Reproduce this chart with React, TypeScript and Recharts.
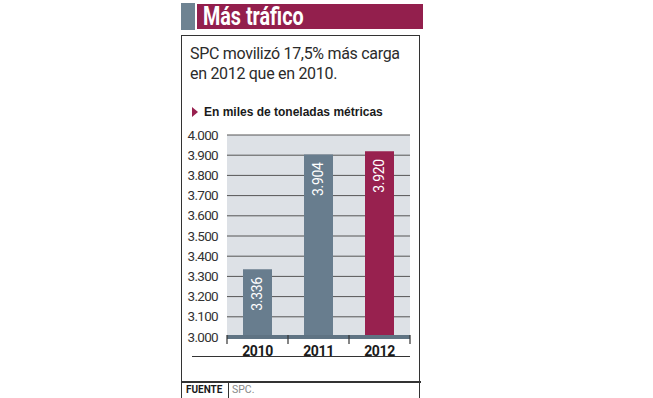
import React from "react";
import { BarChart, Bar, XAxis, YAxis, CartesianGrid, Cell, LabelList } from "recharts";

const categories = ["2010", "2011", "2012"];
const values = [3336, 3904, 3920];
const yTicks = [3000, 3100, 3200, 3300, 3400, 3500, 3600, 3700, 3800, 3900, 4000];
const barColors = ["#687d8e", "#687d8e", "#98214f"];

const data = categories.map((c, i) => ({ year: c, value: values[i] }));

const fmt = (v: number) => {
  const s = String(Math.round(v));
  return s.length > 3 ? s.slice(0, s.length - 3) + "." + s.slice(s.length - 3) : s;
};

const FONT = "'Roboto', 'Liberation Sans', sans-serif";
const HALF_BAND = 30.5;

const XTick = (props: any) => {
  const { x, y, payload, index } = props;
  return (
    <g>
      <line x1={x - HALF_BAND} x2={x - HALF_BAND} y1={y - 10} y2={y - 1} stroke="#333" strokeWidth={1.2} />
      {index === categories.length - 1 && (
        <line x1={x + HALF_BAND} x2={x + HALF_BAND} y1={y - 10} y2={y - 1} stroke="#333" strokeWidth={1.2} />
      )}
      <text x={x} y={y + 11} textAnchor="middle" fontFamily={FONT} fontWeight={700} fontSize={14} fill="#1a1a1a" letterSpacing={-0.4}>
        {payload.value}
      </text>
    </g>
  );
};

const YTick = (props: any) => {
  const { x, y, payload } = props;
  return (
    <text x={x} y={y} dy={4.5} textAnchor="end" fontFamily={FONT} fontSize={13.5} fill="#333" letterSpacing={-0.7}>
      {fmt(payload.value)}
    </text>
  );
};

const BarLabel = (props: any) => {
  const { x, y, width, value } = props;
  const cx = x + width / 2;
  const ty = y + 8;
  return (
    <text
      x={cx}
      y={ty}
      transform={`rotate(-90 ${cx} ${ty})`}
      textAnchor="end"
      dominantBaseline="central"
      fill="#ffffff"
      fontFamily={FONT}
      fontSize={14}
      letterSpacing={-0.3}
    >
      {fmt(value)}
    </text>
  );
};

export default function App() {
  return (
    <div style={{ position: "absolute", left: 0, top: 0, width: 653, height: 398, background: "#fff", overflow: "hidden" }}>
      {/* title bar */}
      <div style={{ position: "absolute", left: 181, top: 3, width: 14, height: 27, background: "#6e8392" }} />
      <div style={{ position: "absolute", left: 197, top: 4, width: 226, height: 25, background: "#931f4d" }} />
      <div
        style={{
          position: "absolute",
          left: 203,
          top: 3,
          height: 27,
          lineHeight: "27px",
          color: "#fff",
          fontFamily: FONT,
          fontWeight: 700,
          fontSize: 26,
          whiteSpace: "nowrap",
          transform: "scaleX(0.76)",
          transformOrigin: "left center",
        }}
      >
        Más tráfico
      </div>
      {/* box */}
      <div style={{ position: "absolute", left: 181, top: 35, width: 239, height: 380, border: "1px solid #333", boxSizing: "border-box" }} />
      <div
        style={{
          position: "absolute",
          left: 190,
          top: 44,
          width: 230,
          fontFamily: FONT,
          fontSize: 16,
          lineHeight: "20px",
          color: "#2b2b2b",
          letterSpacing: -0.3,
        }}
      >
        SPC movilizó 17,5% más carga
        <br />
        en 2012 que en 2010.
      </div>
      <div
        style={{
          position: "absolute",
          left: 192,
          top: 107,
          width: 0,
          height: 0,
          borderTop: "5px solid transparent",
          borderBottom: "5px solid transparent",
          borderLeft: "6px solid #98214f",
        }}
      />
      <div
        style={{
          position: "absolute",
          left: 204,
          top: 104,
          fontFamily: "'Liberation Sans', sans-serif",
          fontWeight: 700,
          fontSize: 12,
          lineHeight: "16px",
          color: "#1a1a1a",
        }}
      >
        En miles de toneladas métricas
      </div>
      {/* chart */}
      <div style={{ position: "absolute", left: 0, top: 0 }}>
        <BarChart width={653} height={398} data={data} margin={{ top: 135, right: 243, bottom: 31, left: 167 }} barCategoryGap={0}>
          <CartesianGrid vertical={false} stroke="#555" strokeWidth={1} fill="#dde1e6" fillOpacity={1} />
          <YAxis
            width={60}
            domain={[3000, 4000]}
            ticks={yTicks}
            interval={0}
            axisLine={false}
            tickLine={false}
            tickSize={0}
            tickMargin={9}
            tick={<YTick />}
          />
          <XAxis
            dataKey="year"
            height={30}
            axisLine={{ stroke: "#5f7383", strokeWidth: 4 }}
            tickLine={false}
            tick={<XTick />}
            interval={0}
          />
          <Bar dataKey="value" barSize={29} isAnimationActive={false}>
            {data.map((d, i) => (
              <Cell key={d.year} fill={barColors[i]} />
            ))}
            <LabelList dataKey="value" content={<BarLabel />} />
          </Bar>
        </BarChart>
      </div>
      {/* bottom lines */}
      <div style={{ position: "absolute", left: 192, top: 356, width: 218, height: 1, background: "#333" }} />
      <div style={{ position: "absolute", left: 182, top: 381, width: 239, height: 2, background: "#333" }} />
      <div style={{ position: "absolute", left: 228, top: 382, width: 1, height: 16, background: "#333" }} />
      <div
        style={{
          position: "absolute",
          left: 186,
          top: 383,
          lineHeight: "14px",
          fontFamily: FONT,
          fontWeight: 700,
          fontSize: 10,
          color: "#1a1a1a",
        }}
      >
        FUENTE
      </div>
      <div
        style={{
          position: "absolute",
          left: 232,
          top: 383,
          lineHeight: "14px",
          fontFamily: FONT,
          fontSize: 10.5,
          color: "#888",
        }}
      >
        SPC.
      </div>
    </div>
  );
}
